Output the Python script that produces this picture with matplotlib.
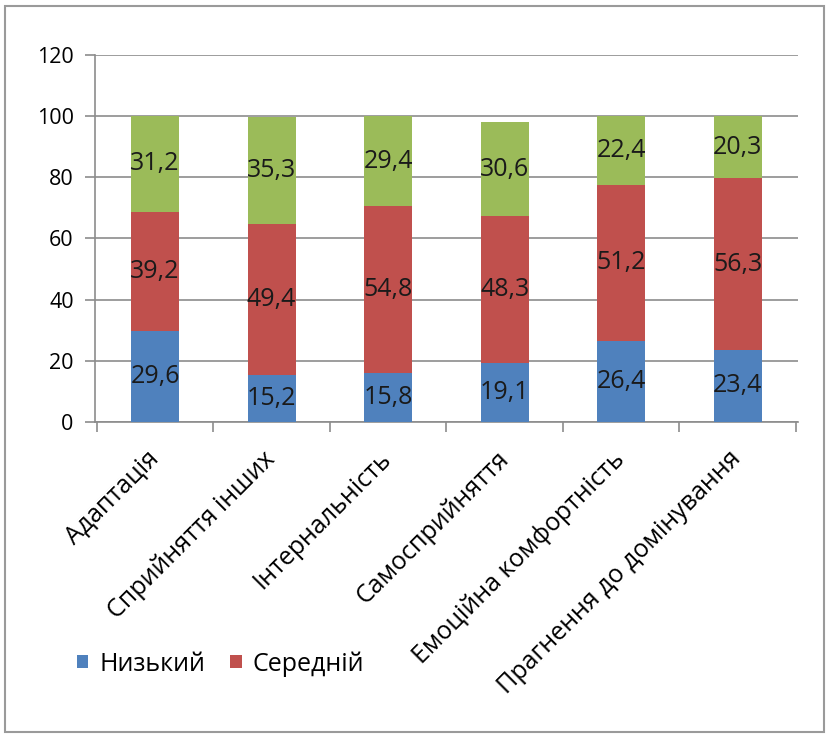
import matplotlib
matplotlib.use("Agg")
import matplotlib.pyplot as plt
import matplotlib.transforms as mtransforms
from matplotlib.patches import Rectangle
import numpy as np

plt.rcParams['font.family'] = ['Open Sans', 'DejaVu Sans']

categories = ["Адаптація", "Сприйняття інших", "Інтернальність",
              "Самосприйняття", "Емоційна комфортність", "Прагнення до домінування"]
low = [29.6, 15.2, 15.8, 19.1, 26.4, 23.4]
mid = [39.2, 49.4, 54.8, 48.3, 51.2, 56.3]
high = [31.2, 35.3, 29.4, 30.6, 22.4, 20.3]
series_names = ["Низький", "Середній", "Високий"]
colors = ["#4F81BD", "#C0504D", "#9BBB59"]

fig = plt.figure(figsize=(8.29, 7.36), dpi=100)
fig.patches.append(Rectangle((0.006, 0.006), 0.988, 0.986, transform=fig.transFigure,
                             fill=False, edgecolor="#9a9a9a", linewidth=1.5))
ax = fig.add_axes([0.114, 0.427, 0.849, 0.498])

x = np.arange(len(categories))
bottom = np.zeros(len(categories))
bars_all = []
for vals, name, col in zip([low, mid, high], series_names, colors):
    bars = ax.bar(x, vals, width=0.41, bottom=bottom, color=col, label=name, zorder=3)
    for xi, b, v in zip(x, bottom, vals):
        ax.text(xi, b + v / 2, f"{v:.1f}".replace(".", ","), ha="center", va="center",
                fontsize=18, color="#1a1a1a", zorder=4)
    bars_all.append(bars)
    bottom = bottom + np.array(vals)

ax.set_xlim(-0.52, len(categories) - 0.48)
ax.set_ylim(0, 120)
ax.set_yticks(range(0, 121, 20))
ax.yaxis.grid(True, color="#8c8c8c", linewidth=1.2, zorder=0)
ax.set_axisbelow(True)
for s in ["top", "right"]:
    ax.spines[s].set_visible(False)
for s in ["left", "bottom"]:
    ax.spines[s].set_color("#8c8c8c")
    ax.spines[s].set_linewidth(1.2)

ax.set_xticks(x)
ax.set_xticklabels(categories, rotation=45, ha="right", rotation_mode="anchor", fontsize=18)
ax.tick_params(axis="x", length=0, pad=10)
# nudge rotated labels slightly left/down
shift = mtransforms.ScaledTranslation(-9 / 100, -11 / 100, fig.dpi_scale_trans)
for lbl in ax.get_xticklabels():
    lbl.set_transform(lbl.get_transform() + shift)
ax.set_xticks(np.arange(len(categories) + 1) - 0.5, minor=True)
ax.tick_params(axis="x", which="minor", length=7, color="#8c8c8c", width=1.2)
ax.tick_params(axis="y", length=7, color="#8c8c8c", width=1.2, labelsize=15.5, pad=8)

handles = [bars_all[0], bars_all[1]]
fig.legend(handles, series_names[:2], loc="center left", bbox_to_anchor=(0.093, 0.098),
           ncol=2, frameon=False, fontsize=18, handlelength=0.45, handleheight=0.45,
           handletextpad=0.45, columnspacing=1.0, borderpad=0, borderaxespad=0)

fig.savefig("out.png", dpi=100)
